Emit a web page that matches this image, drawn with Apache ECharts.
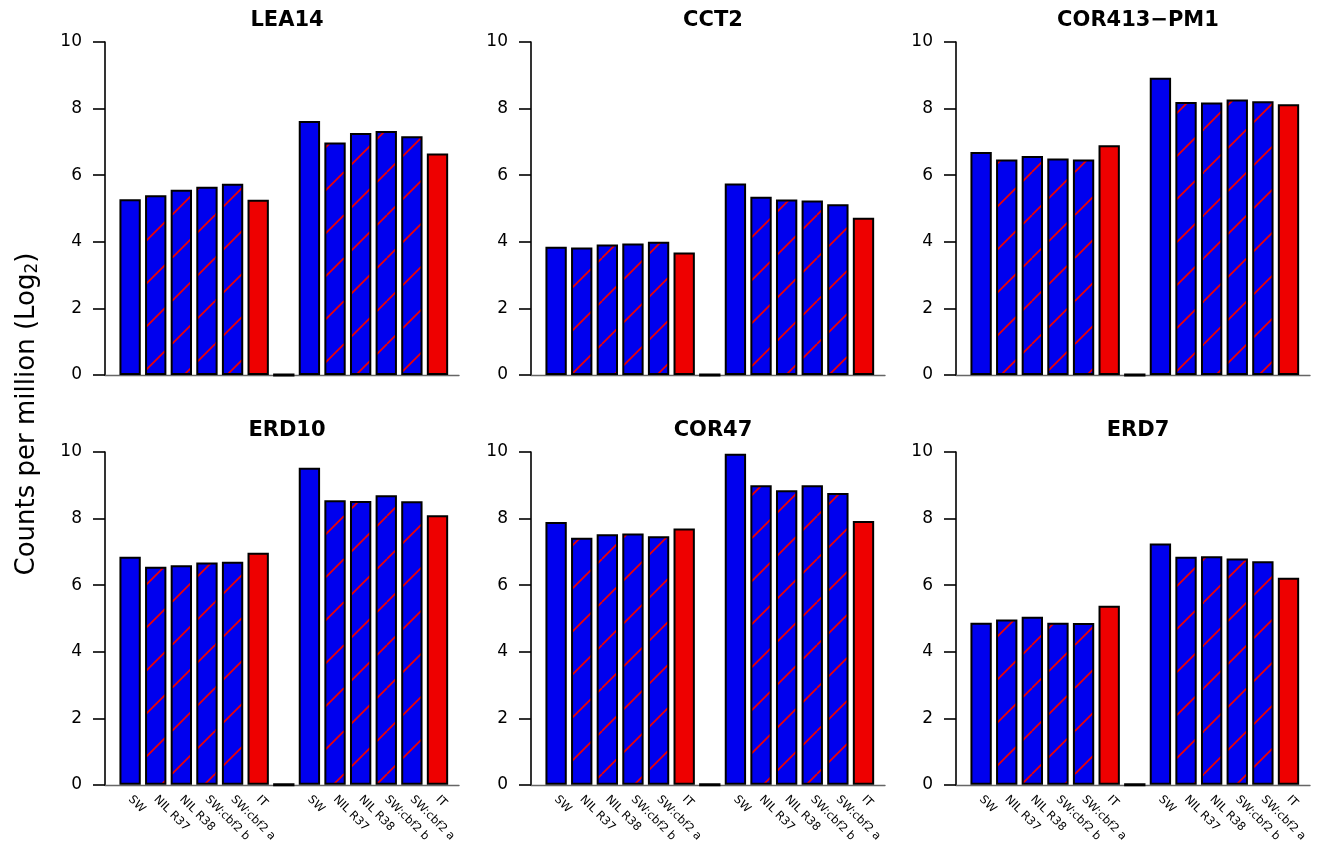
<!DOCTYPE html>
<html>
<head>
<meta charset="utf-8">
<script src="https://cdn.jsdelivr.net/npm/echarts@6/dist/echarts.min.js"></script>
<style>
html,body{margin:0;padding:0;background:#fff;}
#chart{width:1319px;height:845px;}
</style>
</head>
<body>
<div id="chart"></div>
<script>
// ---------- data ----------
const categories = ['SW','NIL R37','NIL R38','SW:cbf2 b','SW:cbf2 a','IT','',
                    'SW','NIL R37','NIL R38','SW:cbf2 b','SW:cbf2 a','IT'];
const panelTitles = ['LEA14','CCT2','COR413\u2212PM1','ERD10','COR47','ERD7'];
const LEA14      = [5.28, 5.40, 5.56, 5.65, 5.74, 5.26, 0, 7.63, 6.98, 7.27, 7.33, 7.17, 6.65];
const CCT2       = [3.85, 3.83, 3.92, 3.95, 4.00, 3.68, 0, 5.75, 5.35, 5.27, 5.24, 5.13, 4.72];
const COR413_PM1 = [6.70, 6.47, 6.58, 6.50, 6.47, 6.90, 0, 8.93, 8.20, 8.18, 8.27, 8.22, 8.13];
const ERD10      = [6.85, 6.55, 6.60, 6.68, 6.70, 6.97, 0, 9.53, 8.55, 8.53, 8.70, 8.52, 8.10];
const COR47      = [7.90, 7.42, 7.53, 7.55, 7.47, 7.70, 0, 9.95, 9.00, 8.85, 9.00, 8.77, 7.93];
const ERD7       = [4.87, 4.97, 5.05, 4.87, 4.86, 5.38, 0, 7.25, 6.85, 6.87, 6.80, 6.72, 6.22];
const panelValues = [LEA14, CCT2, COR413_PM1, ERD10, COR47, ERD7];
const yMin = 0, yMax = 10, yStep = 2;
const yAxisTitle = 'Counts per million (Log{s|2})';

// ---------- styles ----------
const BLUE = '#0000EE', RED = '#EE0000';
function hatchCanvas() {
  const s = 43;
  const c = document.createElement('canvas');
  c.width = s; c.height = s;
  const g = c.getContext('2d');
  g.fillStyle = BLUE; g.fillRect(0, 0, s, s);
  g.strokeStyle = RED; g.lineWidth = 1.7;
  for (let k = -1; k <= 1; k++) {
    g.beginPath(); g.moveTo(k * s, s); g.lineTo(k * s + s, 0); g.stroke();
  }
  return c;
}
const hatch = { image: hatchCanvas(), repeat: 'repeat' };
// fill kind per position within a group of six, 'gap' for the separator
const fillKinds = ['solid','hatch','hatch','hatch','hatch','red','gap',
                   'solid','hatch','hatch','hatch','hatch','red'];
function fillFor(kind) {
  if (kind === 'solid') return BLUE;
  if (kind === 'hatch') return hatch;
  if (kind === 'red') return RED;
  return '#000';
}

// ---------- layout ----------
const AXIS_X = [105, 531, 956];
const ROW_TOP = [42, 452];
const PLOT_H = 333, AXIS_W = 354, BAND_OFF = 12.3, BAND_W = 333;
const FONT = 'DejaVu Sans';

const grids = [], xAxes = [], yAxes = [], series = [], titles = [];
panelTitles.forEach((name, p) => {
  const col = p % 3, row = Math.floor(p / 3);
  const ax = AXIS_X[col], top = ROW_TOP[row];
  // frame grid: y axis + baseline
  grids.push({ left: ax, top: top, width: AXIS_W, height: PLOT_H });
  const gFrame = grids.length - 1;
  xAxes.push({ gridIndex: gFrame, type: 'value', min: 0, max: 1,
    axisLine: { show: true, lineStyle: { color: '#666', width: 1.4 } },
    axisTick: { show: false }, axisLabel: { show: false }, splitLine: { show: false } });
  yAxes.push({ gridIndex: gFrame, type: 'value', min: yMin, max: yMax, interval: yStep,
    axisLine: { show: true, lineStyle: { color: '#000', width: 1.6 } },
    axisTick: { show: true, inside: false, length: 12, lineStyle: { color: '#000', width: 1.6 } },
    axisLabel: { color: '#000', fontSize: 17, fontFamily: FONT, margin: 23 },
    splitLine: { show: false } });
  // bars grid
  grids.push({ left: ax + BAND_OFF, top: top, width: BAND_W, height: PLOT_H });
  const gBar = grids.length - 1;
  xAxes.push({ gridIndex: gBar, type: 'category', data: categories,
    axisLine: { show: false }, axisTick: { show: false },
    axisLabel: { show: row === 1, interval: 0, rotate: -45, fontSize: 11.5,
      fontFamily: FONT, color: '#000', margin: 13 } });
  yAxes.push({ gridIndex: gBar, type: 'value', min: yMin, max: yMax, show: false });
  series.push({
    type: 'bar', xAxisIndex: xAxes.length - 1, yAxisIndex: yAxes.length - 1,
    barCategoryGap: '16.7%', animation: false,
    data: panelValues[p].map((v, i) => ({
      value: v,
      itemStyle: { color: fillFor(fillKinds[i]), borderColor: '#000',
                   borderWidth: fillKinds[i] === 'gap' ? 3 : 2 }
    }))
  });
  titles.push({ text: name, left: ax + AXIS_W / 2, top: top - 37, textAlign: 'center',
    textStyle: { fontSize: 21, fontWeight: 'bold', fontFamily: FONT, color: '#000' } });
});

const chart = echarts.init(document.getElementById('chart'), null, { renderer: 'canvas' });
chart.setOption({
  backgroundColor: '#fff',
  animation: false,
  title: titles,
  grid: grids,
  xAxis: xAxes,
  yAxis: yAxes,
  series: series,
  graphic: [{
    type: 'text', x: 27, y: 414, rotation: Math.PI / 2,
    style: { text: yAxisTitle, fontSize: 26, fontFamily: FONT, fill: '#000',
      align: 'center', verticalAlign: 'middle',
      rich: { s: { fontSize: 17, fontFamily: FONT, verticalAlign: 'bottom', padding: [12, 0, 0, 0] } } }
  }]
});
</script>
</body>
</html>
